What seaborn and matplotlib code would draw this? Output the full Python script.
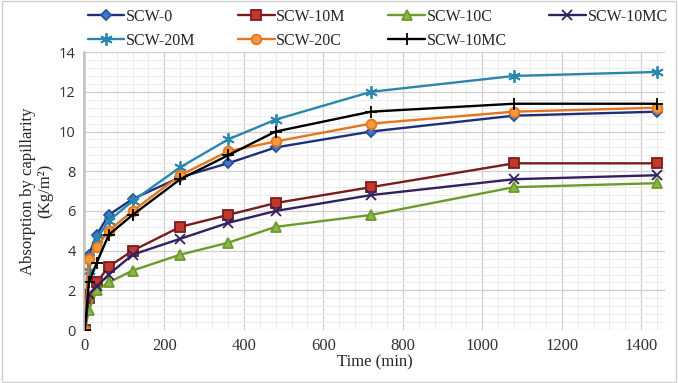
import pandas as pd
import numpy as np
import matplotlib
matplotlib.use("Agg")
import matplotlib.pyplot as plt
import seaborn as sns
from matplotlib.ticker import MultipleLocator, AutoMinorLocator

# ----------------------------------------------------------------------
# Data
# ----------------------------------------------------------------------
time_min = [0, 10, 30, 60, 120, 240, 360, 480, 720, 1080, 1440]

scw_0 = [0, 3.8, 4.8, 5.8, 6.6, 7.7, 8.4, 9.2, 10.0, 10.8, 11.0]
scw_10m = [0, 1.6, 2.4, 3.2, 4.0, 5.2, 5.8, 6.4, 7.2, 8.4, 8.4]
scw_10c = [0, 1.0, 2.0, 2.4, 3.0, 3.8, 4.4, 5.2, 5.8, 7.2, 7.4]
scw_10mc = [0, 1.8, 2.2, 2.8, 3.8, 4.6, 5.4, 6.0, 6.8, 7.6, 7.8]
scw_20m = [0, 3.0, 4.6, 5.5, 6.5, 8.2, 9.6, 10.6, 12.0, 12.8, 13.0]
scw_20c = [0, 3.6, 4.2, 5.0, 6.0, 7.8, 9.0, 9.5, 10.4, 11.0, 11.2]
scw_10mc_b = [0, 2.4, 3.4, 4.8, 5.8, 7.6, 8.8, 10.0, 11.0, 11.4, 11.4]

series = [
    # label, values, line colour, marker, face colour, edge colour, marker size
    ("SCW-0", scw_0, "#1F2F7A", "D", "#3D7CC9", "#2A4F9E", 5),
    ("SCW-10M", scw_10m, "#7A1C1C", "s", "#C0392B", "#7A1C1C", 7),
    ("SCW-10C", scw_10c, "#6B9B2A", "^", "#8DB648", "#6B9B2A", 7),
    ("SCW-10MC", scw_10mc, "#33205F", "x", "#33205F", "#33205F", 7),
    ("SCW-20M", scw_20m, "#2B86AE", (6, 2, 0), "#2B86AE", "#2B86AE", 9),
    ("SCW-20C", scw_20c, "#E4751C", "o", "#F39A3C", "#E4751C", 7),
    ("SCW-10MC ", scw_10mc_b, "#000000", "+", "#000000", "#000000", 9),
]

# ----------------------------------------------------------------------
# Plot
# ----------------------------------------------------------------------
sns.set_theme(style="white")
plt.rcParams["font.family"] = ["Liberation Serif", "DejaVu Serif"]

fig = plt.figure(figsize=(6.78, 3.83), dpi=100)
ax = fig.add_axes([0.124, 0.138, 0.857, 0.726])

for label, vals, lc, mk, fc, ec, ms in series:
    df = pd.DataFrame({"time": time_min, "abs": vals})
    sns.lineplot(data=df, x="time", y="abs", ax=ax, color=lc, lw=1.7,
                 marker=mk, markersize=ms, markerfacecolor=fc,
                 markeredgecolor=ec, markeredgewidth=1.3, label=label)

ax.set_xlim(-2, 1460)
ax.set_ylim(0, 14)
ax.xaxis.set_major_locator(MultipleLocator(200))
ax.yaxis.set_major_locator(MultipleLocator(2))
ax.xaxis.set_minor_locator(AutoMinorLocator(5))
ax.yaxis.set_minor_locator(AutoMinorLocator(5))
ax.grid(which="major", color="#cfcfcf", lw=0.9)
ax.grid(which="minor", color="#ececec", lw=0.7)
ax.set_axisbelow(True)
for side in ["top", "right", "bottom"]:
    ax.spines[side].set_visible(False)
ax.spines["left"].set_color("#bdbdbd")
ax.tick_params(axis="both", length=0, pad=6)
ax.tick_params(axis="x", labelsize=12, colors="#333333")
ax.tick_params(axis="y", colors="#333333")
for t in ax.get_yticklabels():
    t.set_family(["Open Sans", "DejaVu Sans"])
    t.set_fontsize(10.5)

ax.set_xlabel("Time (min)", fontsize=12, labelpad=0)
ax.set_ylabel("Absorption by capillarity\n(Kg/m²)", fontsize=12,
              labelpad=4, linespacing=1.1)

# legend: two rows, four columns, filled column by column
h, l = ax.get_legend_handles_labels()
order = [0, 4, 1, 5, 2, 6, 3]
fig.legend([h[i] for i in order], [l[i].strip() for i in order],
           ncol=4, frameon=False, loc="lower left", mode="expand",
           bbox_to_anchor=(0.127, 0.868, 0.86, 0.10), fontsize=11.5,
           handlelength=2.3, handletextpad=0.1, borderpad=0.1,
           labelspacing=0.5, borderaxespad=0)
ax.get_legend().remove()

# light frame round the whole picture
fig.patches.append(plt.Rectangle((0.003, 0.003), 0.994, 0.994,
                                 transform=fig.transFigure, fill=False,
                                 edgecolor="#d0d0d0", lw=1))

fig.savefig("out.png", dpi=100)
